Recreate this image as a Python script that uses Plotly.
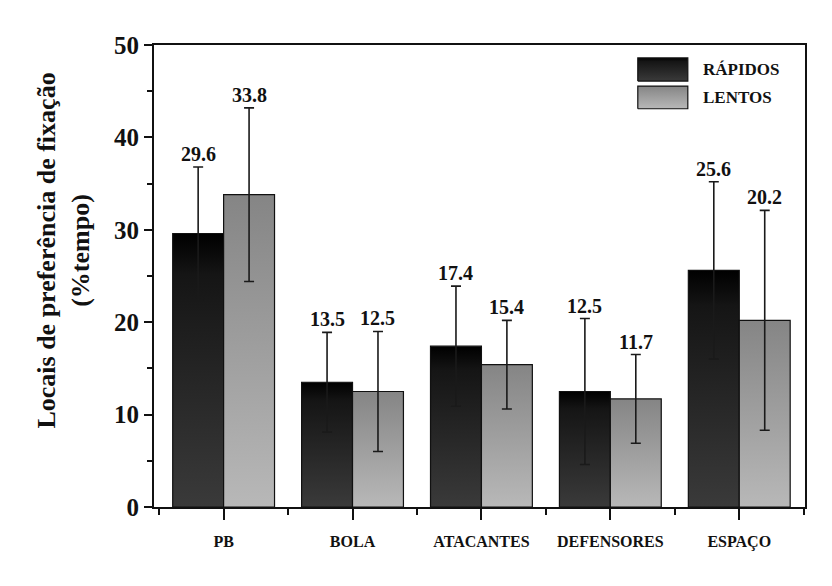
import plotly.graph_objects as go

categories = ["PB", "BOLA", "ATACANTES", "DEFENSORES", "ESPAÇO"]
rapidos = [29.6, 13.5, 17.4, 12.5, 25.6]
rapidos_err = [7.2, 5.4, 6.5, 7.9, 9.6]
lentos = [33.8, 12.5, 15.4, 11.7, 20.2]
lentos_err = [9.4, 6.5, 4.8, 4.8, 11.9]
series_names = ["RÁPIDOS", "LENTOS"]
y_ticks = [0, 10, 20, 30, 40, 50]

FONT = "Liberation Serif, Times New Roman, serif"
BAR_W = 0.395
dark_scale = [[0, "#3a3a3a"], [0.85, "#151515"], [1, "#000000"]]
light_scale = [[0, "#b8b8b8"], [1, "#858585"]]

fig = go.Figure()

series = [
    (rapidos, rapidos_err, -BAR_W / 2, dark_scale),
    (lentos, lentos_err, BAR_W / 2, light_scale),
]

# gradient-filled bars
for vals, errs, off, scale in series:
    for i, v in enumerate(vals):
        xc = i + off
        x0, x1 = xc - BAR_W / 2, xc + BAR_W / 2
        fig.add_trace(go.Scatter(
            x=[x0, x0, x1, x1, x0], y=[0, v, v, 0, 0],
            mode="lines", fill="toself",
            fillgradient=dict(type="vertical", colorscale=scale),
            line=dict(color="#111111", width=1.2),
            showlegend=False, hoverinfo="skip"))

# error bars
for vals, errs, off, scale in series:
    fig.add_trace(go.Scatter(
        x=[i + off for i in range(len(vals))], y=vals,
        mode="markers", marker=dict(size=1, color="rgba(0,0,0,0)"),
        error_y=dict(type="data", array=errs, visible=True,
                     color="#1a1a1a", thickness=1.6, width=5),
        showlegend=False, hoverinfo="skip"))

annotations = []
for vals, errs, off, scale in series:
    for i, v in enumerate(vals):
        annotations.append(dict(
            x=i + off, y=v + errs[i], xref="x", yref="y",
            text=f"<b>{v:.1f}</b>", showarrow=False,
            yanchor="bottom", yshift=0,
            font=dict(family=FONT, size=20, color="#111111")))

# custom legend (swatches + labels)
leg_x0, leg_x1 = 3.213, 3.601
leg_rows = [(46.1, 48.6), (43.1, 45.55)]
for (y0, y1), name, (_, _, _, scale) in zip(leg_rows, series_names, series):
    fig.add_trace(go.Scatter(
        x=[leg_x0, leg_x0, leg_x1, leg_x1, leg_x0], y=[y0, y1, y1, y0, y0],
        mode="lines", fill="toself",
        fillgradient=dict(type="vertical", colorscale=scale),
        line=dict(color="#111111", width=1.2),
        showlegend=False, hoverinfo="skip"))
    annotations.append(dict(
        x=3.70, y=(y0 + y1) / 2, xref="x", yref="y",
        text=f"<b>{name}</b>", showarrow=False,
        xanchor="left", yanchor="middle",
        font=dict(family=FONT, size=17, color="#111111")))

# y-axis title (placed slightly above the plot centre, as in the original)
annotations.append(dict(
    x=0, y=0.555, xref="paper", yref="paper",
    text="<b>Locais de preferência de fixação<br>(%tempo)</b>",
    textangle=-90, showarrow=False,
    xanchor="center", yanchor="middle", xshift=-90,
    font=dict(family=FONT, size=26, color="#111111")))

axis_common = dict(
    showline=True, linecolor="#111111", linewidth=2, mirror=True,
    showgrid=False, zeroline=False, ticks="outside", tickcolor="#111111",
    tickwidth=2,
)

fig.update_layout(
    width=816, height=570,
    margin=dict(l=146, r=19, t=37, b=71),
    paper_bgcolor="white", plot_bgcolor="white",
    showlegend=False,
    annotations=annotations,
    font=dict(family=FONT, color="#111111"),
    xaxis=dict(
        **axis_common,
        range=[-0.54, 4.51],
        tickmode="array", tickvals=list(range(len(categories))),
        ticktext=[f"<b>{c}</b>" for c in categories],
        ticklen=11,
        ticklabelstandoff=8,
        tickfont=dict(family=FONT, size=16, color="#111111"),
        minor=dict(tickmode="linear", tick0=0.5, dtick=1, ticks="outside",
                   ticklen=6, tickwidth=2, tickcolor="#111111"),
    ),
    yaxis=dict(
        **axis_common,
        range=[0, 50],
        tickmode="array", tickvals=y_ticks,
        ticktext=[f"<b>{t}</b>" for t in y_ticks],
        ticklen=8,
        tickfont=dict(family=FONT, size=25, color="#111111"),
        minor=dict(tickmode="linear", tick0=5, dtick=10, ticks="outside",
                   ticklen=5, tickwidth=2, tickcolor="#111111"),
    ),
)

fig.write_html("out.html")
